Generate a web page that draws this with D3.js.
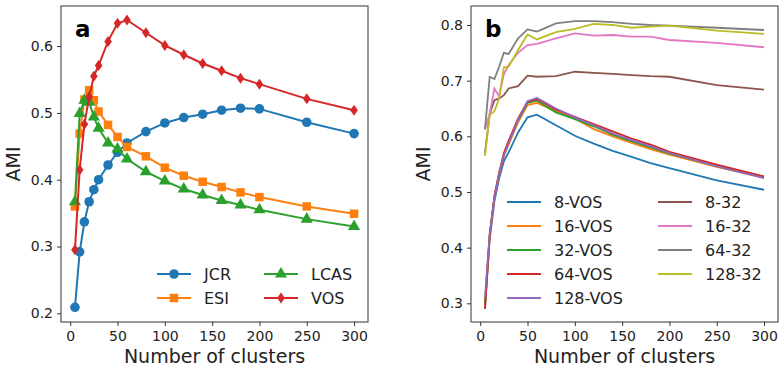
<!DOCTYPE html>
<html>
<head>
<meta charset="utf-8">
<script src="https://cdn.jsdelivr.net/npm/d3@7"></script>
<style>
  body { margin: 0; background: #fff; }
  svg { display: block; font-family: "DejaVu Sans", sans-serif; }
</style>
</head>
<body>
<div id="chart"></div>
<script>
// x values (number of clusters), shared by both panels
const clusters = [5, 10, 15, 20, 25, 30, 40, 50, 60, 80, 100, 120, 140, 160, 180, 200, 250, 300];

// panel a
const jcr  = [0.209, 0.292, 0.337, 0.367, 0.385, 0.400, 0.422, 0.441, 0.455, 0.472, 0.485, 0.493, 0.498, 0.504, 0.507, 0.506, 0.486, 0.469];
const esi  = [0.360, 0.469, 0.520, 0.534, 0.519, 0.502, 0.482, 0.464, 0.449, 0.435, 0.418, 0.406, 0.397, 0.389, 0.381, 0.374, 0.360, 0.349];
const lcas = [0.367, 0.499, 0.519, 0.516, 0.494, 0.477, 0.455, 0.446, 0.431, 0.412, 0.398, 0.386, 0.377, 0.369, 0.362, 0.355, 0.341, 0.330];
const vos  = [0.295, 0.415, 0.483, 0.524, 0.555, 0.571, 0.607, 0.634, 0.639, 0.620, 0.601, 0.587, 0.574, 0.563, 0.552, 0.543, 0.521, 0.504];

// panel b
const vos8   = [0.290, 0.415, 0.483, 0.524, 0.555, 0.571, 0.607, 0.634, 0.639, 0.620, 0.601, 0.587, 0.574, 0.563, 0.552, 0.543, 0.521, 0.504];
const vos16  = [0.295, 0.420, 0.490, 0.530, 0.565, 0.585, 0.625, 0.656, 0.660, 0.645, 0.632, 0.613, 0.600, 0.588, 0.577, 0.567, 0.545, 0.526];
const vos32  = [0.300, 0.425, 0.492, 0.532, 0.567, 0.590, 0.628, 0.660, 0.664, 0.643, 0.631, 0.618, 0.603, 0.591, 0.580, 0.569, 0.547, 0.527];
const vos64  = [0.290, 0.420, 0.493, 0.535, 0.570, 0.592, 0.632, 0.662, 0.667, 0.648, 0.635, 0.622, 0.609, 0.596, 0.585, 0.572, 0.549, 0.528];
const vos128 = [0.310, 0.425, 0.490, 0.532, 0.566, 0.588, 0.630, 0.663, 0.669, 0.650, 0.634, 0.620, 0.605, 0.593, 0.582, 0.570, 0.546, 0.525];
const n8_32   = [0.570, 0.640, 0.665, 0.668, 0.674, 0.686, 0.690, 0.709, 0.707, 0.708, 0.716, 0.714, 0.712, 0.710, 0.708, 0.707, 0.692, 0.684];
const n16_32  = [0.613, 0.640, 0.686, 0.672, 0.712, 0.728, 0.750, 0.764, 0.766, 0.776, 0.785, 0.781, 0.782, 0.779, 0.779, 0.773, 0.768, 0.760];
const n64_32  = [0.612, 0.707, 0.703, 0.725, 0.750, 0.748, 0.776, 0.792, 0.788, 0.803, 0.807, 0.807, 0.805, 0.802, 0.800, 0.799, 0.795, 0.791];
const n128_32 = [0.565, 0.638, 0.645, 0.668, 0.724, 0.725, 0.755, 0.783, 0.774, 0.787, 0.793, 0.802, 0.800, 0.795, 0.797, 0.799, 0.790, 0.784];

const xTicks = [0, 50, 100, 150, 200, 250, 300];
const yTicksA = [0.2, 0.3, 0.4, 0.5, 0.6];
const yTicksB = [0.3, 0.4, 0.5, 0.6, 0.7, 0.8];

const seriesA = [
  { name: "JCR", values: jcr, color: "#1f77b4", marker: "circle" },
  { name: "ESI", values: esi, color: "#ff7f0e", marker: "square" },
  { name: "LCAS", values: lcas, color: "#2ca02c", marker: "triangle" },
  { name: "VOS", values: vos, color: "#d62728", marker: "diamond" }
];
const seriesB = [
  { name: "8-VOS", values: vos8, color: "#1f77b4" },
  { name: "16-VOS", values: vos16, color: "#ff7f0e" },
  { name: "32-VOS", values: vos32, color: "#2ca02c" },
  { name: "64-VOS", values: vos64, color: "#d62728" },
  { name: "128-VOS", values: vos128, color: "#9467bd" },
  { name: "8-32", values: n8_32, color: "#8c564b" },
  { name: "16-32", values: n16_32, color: "#e377c2" },
  { name: "64-32", values: n64_32, color: "#7f7f7f" },
  { name: "128-32", values: n128_32, color: "#bcbd22" }
];

const svg = d3.select("#chart").append("svg")
  .attr("width", 784)
  .attr("height", 370);
svg.append("rect").attr("width", 784).attr("height", 370).attr("fill", "#fff");

const markerPath = {
  circle: d3.symbol().type(d3.symbolCircle).size(72)(),
  square: d3.symbol().type(d3.symbolSquare).size(72)(),
  triangle: d3.symbol().type(d3.symbolTriangle).size(64)(),
  diamond: "M0,-5.5L3.8,0L0,5.5L-3.8,0Z"
};

function drawPanel(opts) {
  const x = d3.scaleLinear().domain([-9.75, 314.75]).range([opts.left, opts.right]);
  const y = d3.scaleLinear().domain(opts.yDomain).range([opts.bottom, opts.top]);
  const g = svg.append("g");

  const xAxis = g.append("g")
    .attr("transform", `translate(0, ${opts.bottom})`)
    .call(d3.axisBottom(x).tickValues(xTicks).tickSize(4).tickPadding(5).tickSizeOuter(0));
  const yAxis = g.append("g")
    .attr("transform", `translate(${opts.left}, 0)`)
    .call(d3.axisLeft(y).tickValues(opts.yTicks).tickFormat(d3.format(".1f")).tickSize(4).tickPadding(4).tickSizeOuter(0));
  [xAxis, yAxis].forEach(a => {
    a.select(".domain").remove();
    a.selectAll("line").attr("stroke", "#333");
    a.selectAll("text").attr("fill", "#222").style("font-size", "14px").style("font-family", "DejaVu Sans");
  });

  const line = d3.line().x((d, i) => x(clusters[i])).y(d => y(d));
  opts.series.forEach(s => {
    g.append("path")
      .datum(s.values)
      .attr("fill", "none")
      .attr("stroke", s.color)
      .attr("stroke-width", opts.lw)
      .attr("d", line);
    if (s.marker) {
      g.selectAll(null)
        .data(s.values)
        .enter()
        .append("path")
        .attr("d", markerPath[s.marker])
        .attr("transform", (d, i) => `translate(${x(clusters[i])}, ${y(d)})`)
        .attr("fill", s.color);
    }
  });

  g.append("rect")
    .attr("x", opts.left).attr("y", opts.top)
    .attr("width", opts.right - opts.left).attr("height", opts.bottom - opts.top)
    .attr("fill", "none").attr("stroke", "#333").attr("stroke-width", 1);

  g.append("text")
    .attr("x", opts.labelX).attr("y", 37)
    .attr("font-size", "23px").attr("font-weight", "bold")
    .text(opts.label);

  g.append("text")
    .attr("x", (opts.left + opts.right) / 2).attr("y", 363)
    .attr("text-anchor", "middle").attr("font-size", "19px").attr("fill", "#222")
    .text("Number of clusters");

  g.append("text")
    .attr("transform", `translate(${opts.yLabelX}, ${(opts.top + opts.bottom) / 2}) rotate(-90)`)
    .attr("text-anchor", "middle").attr("font-size", "19px").attr("fill", "#222")
    .text("AMI");

  // legend
  opts.series.forEach((s, i) => {
    const col = i < opts.perCol ? 0 : 1;
    const row = i < opts.perCol ? i : i - opts.perCol;
    const lx = opts.legendX[col];
    const ly = opts.legendY + row * opts.legendStep;
    g.append("line")
      .attr("x1", lx).attr("x2", lx + 34)
      .attr("y1", ly).attr("y2", ly)
      .attr("stroke", s.color).attr("stroke-width", opts.lw);
    if (s.marker) {
      g.append("path")
        .attr("d", markerPath[s.marker])
        .attr("transform", `translate(${lx + 17}, ${ly})`)
        .attr("fill", s.color);
    }
    g.append("text")
      .attr("x", lx + 47).attr("y", ly)
      .attr("dy", "0.36em")
      .attr("font-size", "16px").attr("fill", "#222")
      .text(s.name);
  });
}

drawPanel({
  left: 61, right: 368, top: 6, bottom: 322,
  yDomain: [0.187, 0.66], yTicks: yTicksA,
  series: seriesA, lw: 2,
  label: "a", labelX: 75, yLabelX: 20,
  perCol: 2, legendX: [157, 264], legendY: 274, legendStep: 24
});

drawPanel({
  left: 471, right: 778, top: 6, bottom: 322,
  yDomain: [0.2664, 0.8341], yTicks: yTicksB,
  series: seriesB, lw: 1.8,
  label: "b", labelX: 485, yLabelX: 430,
  perCol: 5, legendX: [507, 658], legendY: 202, legendStep: 24
});
</script>
</body>
</html>
